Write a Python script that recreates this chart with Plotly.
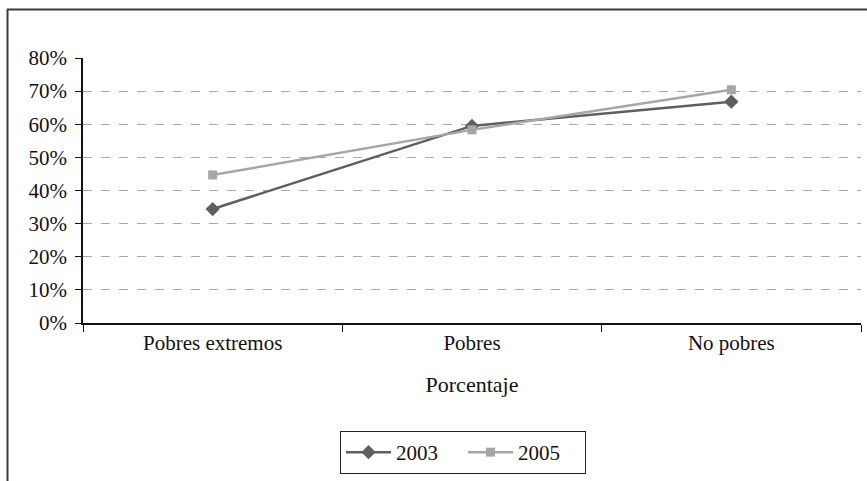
import plotly.graph_objects as go

categories = ["Pobres extremos", "Pobres", "No pobres"]
serie_2003 = [0.344, 0.595, 0.668]
serie_2005 = [0.447, 0.583, 0.704]

W, H = 867, 481
ML, MR, MT, MB = 83, 6, 58, 158


def serif(size):
    return dict(family="Liberation Serif, serif", size=size, color="#111")


fig = go.Figure()
fig.add_trace(go.Scatter(
    x=categories, y=serie_2003, name="2003", mode="lines+markers",
    line=dict(color="#5f5f5f", width=2.5),
    marker=dict(symbol="diamond", size=11, color="#5f5f5f"),
))
fig.add_trace(go.Scatter(
    x=categories, y=serie_2005, name="2005", mode="lines+markers",
    line=dict(color="#a6a6a6", width=2.5),
    marker=dict(symbol="square", size=9, color="#a6a6a6"),
))

pw = W - ML - MR
ph = H - MT - MB


def px_x(p):
    return (p - ML) / pw


def px_y(p):
    return (H - MB - p) / ph


# outer frame: top and left edges
fig.add_shape(type="line", xref="paper", yref="paper",
              x0=px_x(7), x1=px_x(W + 5), y0=px_y(9.5), y1=px_y(9.5),
              line=dict(color="#3a3a3a", width=2))
fig.add_shape(type="line", xref="paper", yref="paper",
              x0=px_x(7.5), x1=px_x(7.5), y0=px_y(9.5), y1=px_y(H + 5),
              line=dict(color="#3a3a3a", width=2))

fig.update_layout(
    width=W, height=H,
    margin=dict(l=ML, r=MR, t=MT, b=MB),
    paper_bgcolor="white", plot_bgcolor="white",
    font=serif(21),
    showlegend=True,
    legend=dict(
        orientation="h", x=px_x(340), xanchor="left", y=px_y(431), yanchor="top",
        bordercolor="#222", borderwidth=1, font=serif(21),
        itemwidth=45, entrywidth=62, entrywidthmode="pixels",
        traceorder="normal",
    ),
    xaxis=dict(
        type="category", tickson="boundaries", ticks="outside", ticklen=7,
        tickcolor="#111", showline=True, linecolor="#111", linewidth=1.5,
        showgrid=False, range=[-0.5, 2.5],
        title=dict(text="Porcentaje", standoff=23, font=serif(22)),
        tickfont=serif(21),
    ),
    yaxis=dict(
        range=[0, 0.8], tickvals=[0, 0.1, 0.2, 0.3, 0.4, 0.5, 0.6, 0.7, 0.8],
        tickformat=".0%", ticks="outside", ticklen=6, tickcolor="#111",
        showline=True, linecolor="#111", linewidth=1.5,
        showgrid=True, gridcolor="#a8a8a8", griddash="dash", gridwidth=1,
        zeroline=False, tickfont=serif(21), ticklabelstandoff=4,
    ),
)

fig.write_html("out.html")
